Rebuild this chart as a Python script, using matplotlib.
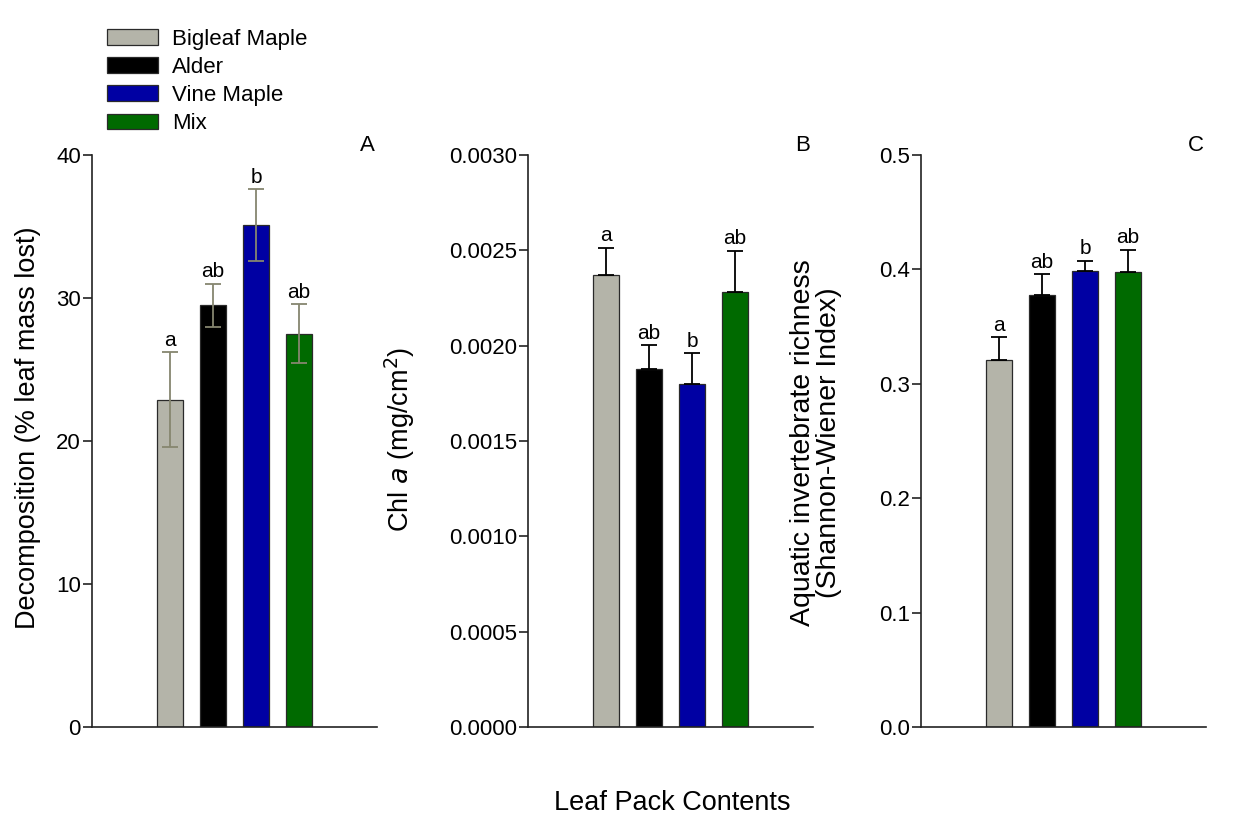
import numpy as np
import matplotlib.pyplot as plt
from matplotlib.patches import Patch
from matplotlib.ticker import FormatStrFormatter

plt.rcParams['font.family'] = ['Liberation Sans', 'DejaVu Sans']

leaves = ['Bigleaf Maple', 'Alder', 'Vine Maple', 'Mix']
colors = ['#b4b4a9', '#000000', '#0000a3', '#006a00']

decomp = [22.9, 29.5, 35.1, 27.5]
decomp_se = [3.3, 1.5, 2.5, 2.05]
decomp_grp = ['a', 'ab', 'b', 'ab']

chla = [0.00237, 0.001877, 0.0018, 0.002282]
chla_se = [0.000142, 0.000124, 0.00016, 0.000217]
chla_grp = ['a', 'ab', 'b', 'ab']

shannon = [0.321, 0.3777, 0.3983, 0.3978]
shannon_se = [0.0195, 0.018, 0.0088, 0.0195]
shannon_grp = ['a', 'ab', 'b', 'ab']

fig = plt.figure(figsize=(12.39, 8.15), dpi=100)

W = 285 / 1239
B = 88 / 815
H = 572 / 815
axA = fig.add_axes([92 / 1239, B, W, H])
axB = fig.add_axes([528 / 1239, B, W, H])
axC = fig.add_axes([921 / 1239, B, W, H])

x = np.arange(len(leaves))


def panel(ax, vals, se, grp, ecol, both, ymax, step, fmt, tag):
    ax.bar(x, vals, width=0.6, color=colors, edgecolor='#2a2a2a', linewidth=0.9)
    lower = se if both else [0] * len(se)
    ax.errorbar(x, vals, yerr=[lower, se], fmt='none', ecolor=ecol,
                elinewidth=1.3, capsize=5.8, capthick=1.3)
    for xi, v, s, g in zip(x, vals, se, grp):
        ax.annotate(g, (xi, v + s), xytext=(0, 2), textcoords='offset points',
                    ha='center', va='bottom', fontsize=15)
    ax.set_xlim(-1.81, 4.81)
    ax.set_ylim(0, ymax)
    ax.set_yticks(np.arange(0, ymax + step / 2, step))
    ax.yaxis.set_major_formatter(FormatStrFormatter(fmt))
    ax.set_xticks([])
    for s in ['top', 'right']:
        ax.spines[s].set_visible(False)
    for s in ['left', 'bottom']:
        ax.spines[s].set_linewidth(1.2)
        ax.spines[s].set_color('#222222')
    ax.tick_params(axis='y', direction='out', length=6.5, width=1.2,
                   labelsize=16, pad=1.5, color='#222222')
    ax.text(0.965, 1.016, tag, transform=ax.transAxes, ha='center',
            va='center', fontsize=16)


panel(axA, decomp, decomp_se, decomp_grp, '#86866f', True, 40, 10, '%d', 'A')
panel(axB, chla, chla_se, chla_grp, 'black', False, 0.003, 0.0005, '%.4f', 'B')
panel(axC, shannon, shannon_se, shannon_grp, 'black', False, 0.5, 0.1, '%.1f', 'C')

# label anchors sit on the right-hand edge of the rotated text
axA.set_ylabel('Decomposition (% leaf mass lost)', fontsize=19.5)
axA.yaxis.set_label_coords(-0.18, 0.523)
axB.set_ylabel('Chl $\\it{a}$ (mg/cm$^2$)', fontsize=19.5)
axB.yaxis.set_label_coords(-0.39, 0.502)
axC.set_ylabel('Aquatic invertebrate richness\n(Shannon-Wiener Index)',
               fontsize=20.5, linespacing=1.0)
axC.yaxis.set_label_coords(-0.277, 0.497)

fig.text(672 / 1239, 1 - 803 / 815, 'Leaf Pack Contents', ha='center',
         va='center', fontsize=19.5)

handles = [Patch(facecolor=c, edgecolor='#2a2a2a', linewidth=0.9) for c in colors]
fig.legend(handles, leaves, loc='upper left', bbox_to_anchor=(98 / 1239, 1 - 20 / 815),
           frameon=False, fontsize=16, handlelength=2.3, handleheight=0.72,
           handletextpad=0.63, labelspacing=0.32, borderaxespad=0)

fig.savefig('out.png', dpi=100)
